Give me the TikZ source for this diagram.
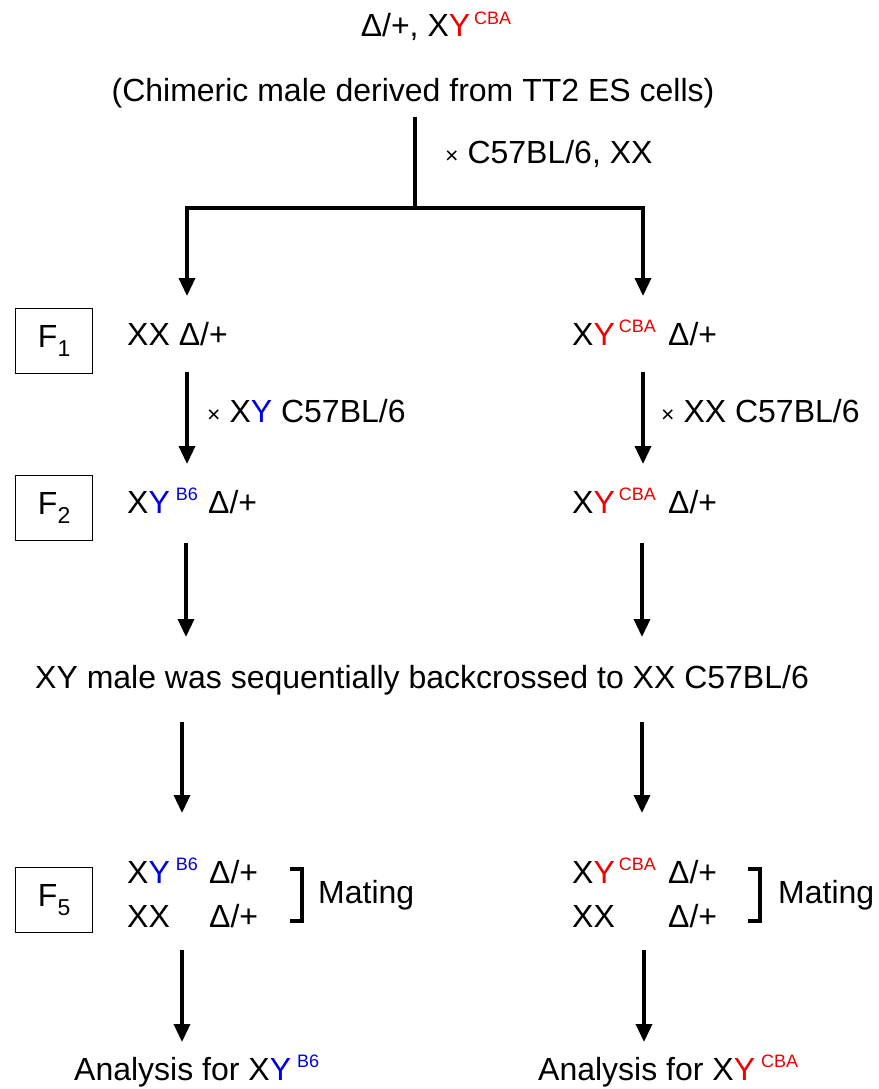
\documentclass[tikz,border=0pt]{standalone}
\usepackage{fontspec}
\setmainfont{Liberation Sans}
\usetikzlibrary{arrows.meta}
\newcommand\supx[2]{\textcolor{#1}{\raisebox{12.5pt}{\fontsize{18}{18}\selectfont #2}}}
\newcommand\yc[1]{\textcolor{#1}{Y}}
\newcommand\tms{{\fontsize{23}{23}\selectfont ×}}
\definecolor{bl}{RGB}{0,0,230}
\definecolor{rd}{RGB}{240,0,0}
\begin{document}
\begin{tikzpicture}[x=1pt,y=-1pt,
  font=\fontsize{32}{38}\selectfont,
  txt/.style={inner sep=0pt},
  ln/.style={line width=3.5pt},
  arr/.style={line width=3.5pt,-{Triangle[length=18pt,width=16pt]}},
  gen/.style={draw,line width=1.3pt,minimum width=77pt,minimum height=65pt,inner sep=0pt,anchor=north west},
  brk/.style={line width=3.5pt}]
\useasboundingbox (0,0) rectangle (878,1089);

% top
\node[txt,anchor=base] (top) at (436,37) {Δ/+, X\yc{rd}\hspace{4pt}\supx{rd}{CBA}};
\node[txt,anchor=base] (chim) at (413,102) {(Chimeric male derived from TT2 ES cells)};
\node[txt,anchor=base west] (c1) at (445,163) {\tms\ C57BL/6, XX};

\coordinate (v0) at (415,117);
\coordinate (j) at (415,208);
\coordinate (t1l) at (187,296);
\coordinate (t1r) at (643,296);
\draw[ln] (v0) -- (j);
\draw[arr] (j) -| (t1l);
\draw[arr] (j) -| (t1r);

% generation boxes
\node[gen] (f1) at (15,308) {F\raisebox{-9pt}{\fontsize{23}{23}\selectfont 1}};
\node[gen] (f2) at (15,475) {F\raisebox{-9pt}{\fontsize{23}{23}\selectfont 2}};
\node[gen] (f5) at (15,867) {F\raisebox{-9pt}{\fontsize{23}{23}\selectfont 5}};

% F1 row
\node[txt,anchor=base west] (l1) at (127,345) {XX Δ/+};
\node[txt,anchor=base west] (r1) at (572,345) {X\yc{rd}\hspace{4pt}\supx{rd}{CBA}};
\node[txt,anchor=base west] (r1d) at (668,345) {Δ/+};

\coordinate (a2l0) at (187,372);
\coordinate (a2l1) at (187,464);
\coordinate (a2r0) at (643,372);
\coordinate (a2r1) at (643,464);
\draw[arr] (a2l0) -- (a2l1);
\draw[arr] (a2r0) -- (a2r1);
\node[txt,anchor=base west] (c2l) at (207,422) {\tms\ X\yc{bl} C57BL/6};
\node[txt,anchor=base west] (c2r) at (661,422) {\tms\ XX C57BL/6};

% F2 row
\node[txt,anchor=base west] (l2) at (127,513) {X\yc{bl}\hspace{6pt}\supx{bl}{B6}};
\node[txt,anchor=base west] (l2d) at (208,513) {Δ/+};
\node[txt,anchor=base west] (r2) at (572,513) {X\yc{rd}\hspace{4pt}\supx{rd}{CBA}};
\node[txt,anchor=base west] (r2d) at (668,513) {Δ/+};

\coordinate (a3l0) at (186,543);
\coordinate (a3l1) at (186,637);
\coordinate (a3r0) at (642,543);
\coordinate (a3r1) at (642,637);
\draw[arr] (a3l0) -- (a3l1);
\draw[arr] (a3r0) -- (a3r1);

\node[txt,anchor=base west] (bc) at (35,688) {XY male was sequentially backcrossed to XX C57BL/6};

\coordinate (a4l0) at (182,722);
\coordinate (a4l1) at (182,813);
\coordinate (a4r0) at (642,722);
\coordinate (a4r1) at (642,813);
\draw[arr] (a4l0) -- (a4l1);
\draw[arr] (a4r0) -- (a4r1);

% F5 rows
\node[txt,anchor=base west] (l5a) at (127,883) {X\yc{bl}\hspace{6pt}\supx{bl}{B6}};
\node[txt,anchor=base west] (l5ad) at (209,883) {Δ/+};
\node[txt,anchor=base west] (l5b) at (127,927) {XX};
\node[txt,anchor=base west] (l5bd) at (209,927) {Δ/+};
\draw[brk] (290,869) -- (302,869) -- (302,921) -- (290,921);
\node[txt,anchor=base west] (m1) at (318,903) {Mating};

\node[txt,anchor=base west] (r5a) at (572,883) {X\yc{rd}\hspace{4pt}\supx{rd}{CBA}};
\node[txt,anchor=base west] (r5ad) at (668,883) {Δ/+};
\node[txt,anchor=base west] (r5b) at (572,927) {XX};
\node[txt,anchor=base west] (r5bd) at (668,927) {Δ/+};
\draw[brk] (748,869) -- (760,869) -- (760,921) -- (748,921);
\node[txt,anchor=base west] (m2) at (778,903) {Mating};

\coordinate (a5l0) at (182,950);
\coordinate (a5l1) at (182,1042);
\coordinate (a5r0) at (644,950);
\coordinate (a5r1) at (644,1042);
\draw[arr] (a5l0) -- (a5l1);
\draw[arr] (a5r0) -- (a5r1);

\node[txt,anchor=base west] (an1) at (74,1080) {Analysis for X\yc{bl}\hspace{6pt}\supx{bl}{B6}};
\node[txt,anchor=base west] (an2) at (538,1080) {Analysis for X\yc{rd}\hspace{6pt}\supx{rd}{CBA}};
\end{tikzpicture}
\end{document}
